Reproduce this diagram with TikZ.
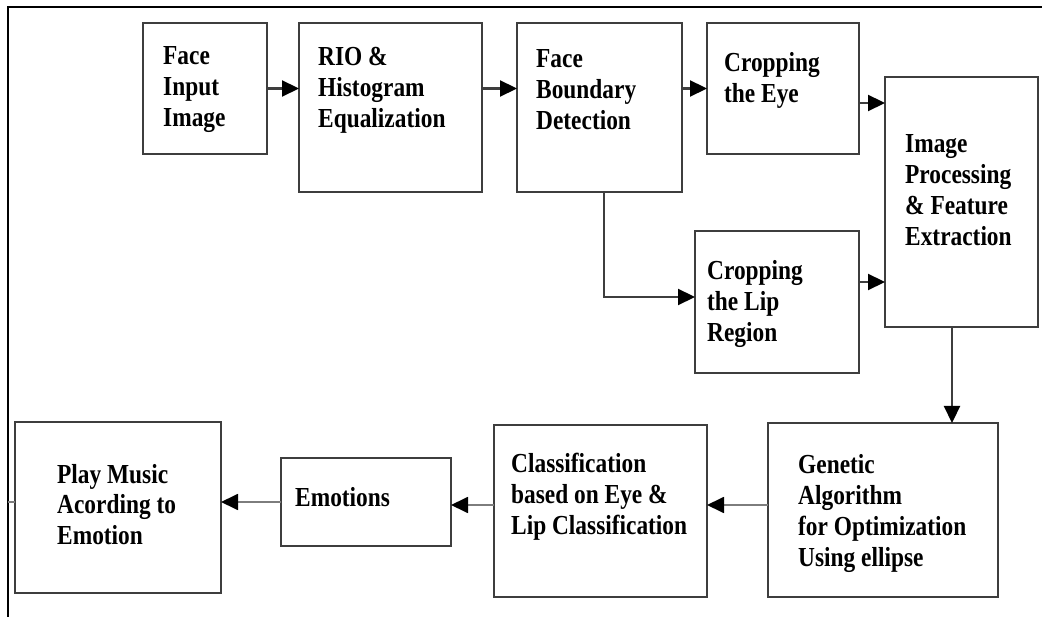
\documentclass[tikz,border=0pt]{standalone}
\usepackage{fontspec}
\setmainfont{Liberation Serif}[FakeStretch=0.85]
\usetikzlibrary{arrows.meta,calc}
\definecolor{boxline}{RGB}{62,62,62}
\definecolor{linkgray}{RGB}{125,125,125}
\newcommand\stacked[1]{\begin{tabular}[t]{@{}l@{}}#1\end{tabular}}
\begin{document}
\begin{tikzpicture}[x=1pt,y=-1pt,
  stage/.style={draw=boxline, line width=2.2pt, fill=white, rectangle,
    inner sep=0pt, outer sep=0pt, anchor=north west},
  caption/.style={inner sep=0pt, anchor=base west,
    font=\fontsize{27.5}{31}\selectfont\bfseries, text=black},
  flow/.style={draw=boxline, line width=2.2pt,
    -{Triangle[length=17pt,width=16pt,color=black]}},
  softflow/.style={draw=linkgray, line width=1.8pt,
    -{Triangle[length=17pt,width=16pt,color=black]}},
  frame/.style={draw=black, line width=1.5pt}]
\useasboundingbox (0,0) rectangle (1042,617);
\fill[white] (0,0) rectangle (1042,617);

% outer frame (top and left edges)
\coordinate (framecorner) at (8,7);
\draw[frame] (8,617) -- (framecorner) -- (1042,7);

% processing stages
\node[stage, minimum width=124pt, minimum height=131pt] (in)   at (143,23)  {};
\node[stage, minimum width=183pt, minimum height=169pt] (rio)  at (299,23)  {};
\node[stage, minimum width=165pt, minimum height=169pt] (fbd)  at (517,23)  {};
\node[stage, minimum width=152pt, minimum height=131pt] (eye)  at (707,23)  {};
\node[stage, minimum width=153pt, minimum height=250pt] (ipf)  at (885,77)  {};
\node[stage, minimum width=164pt, minimum height=142pt] (lip)  at (695,231) {};
\node[stage, minimum width=230pt, minimum height=174pt] (gen)  at (768,423) {};
\node[stage, minimum width=213pt, minimum height=172pt] (cls)  at (494,425) {};
\node[stage, minimum width=170pt, minimum height=88pt]  (emo)  at (281,458) {};
\node[stage, minimum width=206pt, minimum height=171pt] (play) at (15,422)  {};

% stage captions
\node[caption] (in-t)   at (163,65)  {\stacked{Face\\Input\\Image}};
\node[caption] (rio-t)  at (318,66)  {\stacked{RIO \&\\Histogram\\Equalization}};
\node[caption] (fbd-t)  at (536,68)  {\stacked{Face\\Boundary\\Detection}};
\node[caption] (eye-t)  at (724,72)  {\stacked{Cropping\\the Eye}};
\node[caption] (ipf-t)  at (905,153) {\stacked{Image\\Processing\\\& Feature\\Extraction}};
\node[caption] (lip-t)  at (707,280) {\stacked{Cropping\\the Lip\\Region}};
\node[caption] (gen-t)  at (798,474) {\stacked{Genetic\\Algorithm\\for Optimization\\Using ellipse}};
\node[caption] (cls-t)  at (511,473) {\stacked{Classification\\based on Eye \&\\Lip Classification}};
\node[caption] (emo-t)  at (295,507) {Emotions};
\node[caption] (play-t) at (57,483)  {\stacked{Play Music\\Acording to\\Emotion}};

% connectors, top row
\draw[flow] (in.east) -- (rio.west |- in.east);
\draw[flow] (rio.east |- in.east) -- (fbd.west |- in.east);
\draw[flow] (fbd.east |- eye.west) -- (eye.west);
\draw[flow] ($(eye.east)+(0,14.5)$) coordinate (eyeout) -- (ipf.west |- eyeout);
\draw[flow] ($(fbd.south)+(4.5,0)$) coordinate (fbdout) |- ($(lip.west)+(0,-5)$);
\draw[flow] ($(lip.east)+(0,-20)$) coordinate (lipout) -- (ipf.west |- lipout);
\draw[flow] ($(ipf.south)+(-9.5,0)$) coordinate (ipfout) -- (gen.north -| ipfout);

% connectors, bottom row (right to left)
\draw[softflow] ($(gen.west)+(0,-5)$) coordinate (genout) -- (cls.east |- genout);
\draw[softflow] ($(cls.west)+(0,-6)$) coordinate (clsout) -- (emo.east |- clsout);
\draw[softflow] (emo.west) -- (play.east |- emo.west);
\draw[draw=linkgray, line width=1.8pt] (framecorner |- emo.west) -- (play.west |- emo.west);
\end{tikzpicture}
\end{document}
